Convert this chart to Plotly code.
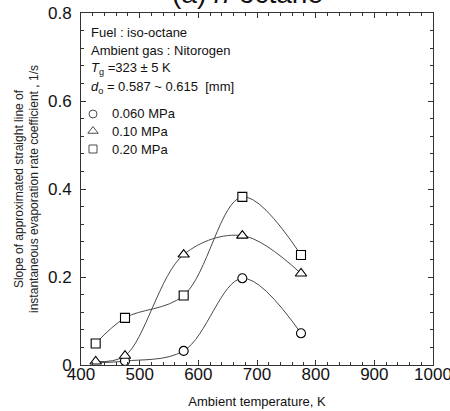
import plotly.graph_objects as go

temps_circle = [425, 475, 575, 675, 775]
slope_006 = [0.005, 0.009, 0.032, 0.197, 0.072]
temps = [425, 475, 575, 675, 775]
slope_010 = [0.008, 0.021, 0.251, 0.294, 0.208]
slope_020 = [0.049, 0.107, 0.158, 0.382, 0.250]

labels = ["0.060 MPa", "0.10 MPa", "0.20 MPa"]
symbols = ["circle", "triangle-up", "square"]
sizes = [9, 10, 9]

# plot area in pixels (layout)
L, R, T, B = 81, 17, 13, 46
W, H = 450, 411
PW, PH = W - L - R, H - T - B

def px_x(px):
    return (px - L) / PW

def px_y(py):
    return 1 - (py - T) / PH

fnt = "Liberation Sans, Arial, sans-serif"

fig = go.Figure()
series = [(temps_circle, slope_006), (temps, slope_010), (temps, slope_020)]
for (xs, ys) in series:
    fig.add_trace(go.Scatter(x=xs, y=ys, mode="lines",
                             line=dict(color="#4a4a4a", width=1, shape="spline", smoothing=1.0),
                             showlegend=False, hoverinfo="skip"))
for (xs, ys), lab, sym, sz in zip(series, labels, symbols, sizes):
    xm, ym = xs, ys
    if lab == "0.060 MPa":
        xm, ym = xs[1:], ys[1:]
    fig.add_trace(go.Scatter(x=xm, y=ym, mode="markers", name=lab, showlegend=False,
                             marker=dict(symbol=sym, size=sz, color="white",
                                         line=dict(color="black", width=1.1))))

# legend keys drawn on an overlay axis spanning the plot area (0..1)
leg_y = [114, 131, 149]
fig.add_trace(go.Scatter(x=[px_x(93)] * 3, y=[px_y(v) for v in leg_y], mode="markers",
                         xaxis="x2", yaxis="y2", showlegend=False, hoverinfo="skip",
                         marker=dict(symbol=symbols, size=[8, 9, 8], color="white",
                                     line=dict(color="black", width=1.0))))
for lab, yp in zip(labels, leg_y):
    fig.add_annotation(text=lab, xref="paper", yref="paper", x=px_x(110), y=px_y(yp),
                       xanchor="left", yanchor="middle", showarrow=False,
                       font=dict(family=fnt, size=13, color="#111"))

info = ["Fuel : iso-octane",
        "Ambient gas : Nitorogen",
        "<i>T</i><sub>g</sub> =323 ± 5 K",
        "<i>d</i><sub>o</sub> = 0.587 ~ 0.615  [mm]"]
ys_px = [33, 50, 68, 87]
for t, yp in zip(info, ys_px):
    fig.add_annotation(text=t, xref="paper", yref="paper", x=px_x(89), y=px_y(yp),
                       xanchor="left", yanchor="middle", showarrow=False,
                       font=dict(family=fnt, size=13, color="#111"))

fig.add_annotation(text="(a) <i>n</i>-octane", xref="paper", yref="paper", x=px_x(247), y=1,
                   yshift=2, xanchor="center", yanchor="bottom", showarrow=False,
                   font=dict(family=fnt, size=28, color="#111"))

axis_common = dict(showline=True, linecolor="#333", linewidth=1, mirror="ticks", ticks="inside",
                   ticklen=5, tickcolor="#333", showgrid=False, zeroline=False, automargin=False,
                   ticklabeloverflow="allow",
                   tickfont=dict(family=fnt, size=17, color="#111"))
fig.update_xaxes(range=[400, 1000], dtick=100, tick0=400,
                 minor=dict(dtick=20, ticks="inside", ticklen=3, tickcolor="#333"),
                 title=dict(text="Ambient temperature, K", font=dict(family=fnt, size=13, color="#111"), standoff=13),
                 ticklabelstandoff=-6,
                 **axis_common)
fig.update_yaxes(range=[0, 0.8], tickvals=[0, 0.2, 0.4, 0.6, 0.8],
                 ticktext=["0", "0.2", "0.4", "0.6", "0.8"],
                 minor=dict(dtick=0.04, ticks="inside", ticklen=3, tickcolor="#333"),
                 title=dict(text="Slope of approximated straight line of<br>instantaneous evaporation rate coefficient , 1/s",
                            font=dict(family=fnt, size=12, color="#222"), standoff=6),
                 ticklabelstandoff=5,
                 **axis_common)

fig.update_layout(width=W, height=H, margin=dict(l=L, r=R, t=T, b=B),
                  plot_bgcolor="white", paper_bgcolor="white", showlegend=False,
                  xaxis2=dict(overlaying="x", range=[0, 1], visible=False, fixedrange=True),
                  yaxis2=dict(overlaying="y", range=[0, 1], visible=False, fixedrange=True),
                  font=dict(family=fnt))
fig.write_html("out.html", config={"displayModeBar": False},
               post_script="document.body.style.margin='0';")
